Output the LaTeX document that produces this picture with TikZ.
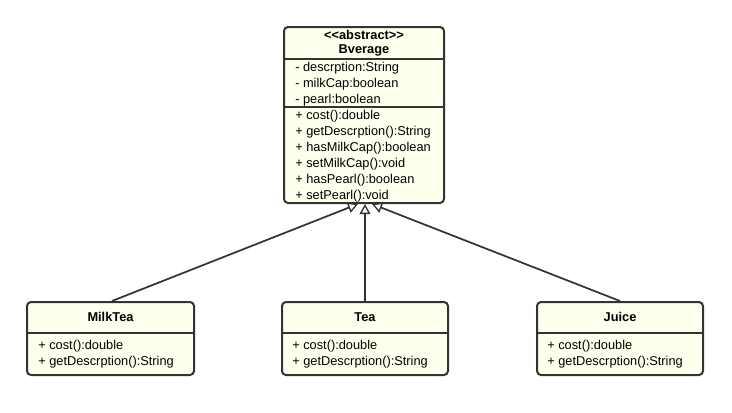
\documentclass[tikz,border=0pt]{standalone}
\usepackage{fontspec}
\setmainfont{Liberation Sans}
\usetikzlibrary{arrows.meta}
\definecolor{clsfill}{RGB}{255,255,238}
\definecolor{clsline}{RGB}{51,51,51}
\begin{document}
\begin{tikzpicture}[x=0.75pt,y=-0.75pt,
  cls/.style={draw=clsline, fill=clsfill, line width=1.5pt, rounded corners=3pt, inner sep=0pt},
  div/.style={draw=clsline, line width=1.5pt},
  txt/.style={font=\fontsize{9.6pt}{12pt}\selectfont, inner sep=0pt, text=black, yshift=-1.2pt},
  bold/.style={font=\fontsize{9.6pt}{12pt}\selectfont\bfseries, inner sep=0pt, text=black, yshift=-0.3pt},
  inh/.style={draw=clsline, line width=1.3pt, -{Triangle[open, length=7.5pt, width=8pt, fill=white, line width=1pt]}}
]
\useasboundingbox (0,0) rectangle (732,412);

% Abstract class Bverage
\node[cls, minimum width=160*0.75pt, minimum height=176*0.75pt] (bev) at (364,115) {};
\draw[div] (284,59) -- (444,59);
\draw[div] (284,107) -- (444,107);
\node[bold] (bst) at (364,35) {<{}<abstract>{}>};
\node[bold] (bnm) at (364,50) {Bverage};
\node[txt, anchor=west] (ba1) at (295,67) {- descrption:String};
\node[txt, anchor=west] (ba2) at (295,83) {- milkCap:boolean};
\node[txt, anchor=west] (ba3) at (295,99) {- pearl:boolean};
\node[txt, anchor=west] (bm1) at (295,115) {+ cost():double};
\node[txt, anchor=west] (bm2) at (295,131) {+ getDescrption():String};
\node[txt, anchor=west] (bm3) at (295,147) {+ hasMilkCap():boolean};
\node[txt, anchor=west] (bm4) at (295,163) {+ setMilkCap():void};
\node[txt, anchor=west] (bm5) at (295,179) {+ hasPearl():boolean};
\node[txt, anchor=west] (bm6) at (295,195) {+ setPearl():void};

% MilkTea
\node[cls, minimum width=167*0.75pt, minimum height=73*0.75pt] (milk) at (110.5,338.5) {};
\draw[div] (27,333) -- (194,333);
\node[bold] (mnm) at (110.5,317) {MilkTea};
\node[txt, anchor=west] (mm1) at (38,345) {+ cost():double};
\node[txt, anchor=west] (mm2) at (38,361) {+ getDescrption():String};

% Tea
\node[cls, minimum width=166*0.75pt, minimum height=73*0.75pt] (tea) at (365,338.5) {};
\draw[div] (282,333) -- (448,333);
\node[bold] (tnm) at (365,317) {Tea};
\node[txt, anchor=west] (tm1) at (292,345) {+ cost():double};
\node[txt, anchor=west] (tm2) at (292,361) {+ getDescrption():String};

% Juice
\node[cls, minimum width=166*0.75pt, minimum height=73*0.75pt] (juice) at (620,338.5) {};
\draw[div] (537,333) -- (703,333);
\node[bold] (jnm) at (620,317) {Juice};
\node[txt, anchor=west] (jm1) at (547,345) {+ cost():double};
\node[txt, anchor=west] (jm2) at (547,361) {+ getDescrption():String};

% Inheritance arrows
\coordinate (tipL) at (358,204);
\coordinate (tipM) at (365,204);
\coordinate (tipR) at (372,204);
\draw[inh] (milk.north -| 112,0) -- (tipL);
\draw[inh] (tea.north) -- (tipM);
\draw[inh] (juice.north) -- (tipR);
\end{tikzpicture}
\end{document}
